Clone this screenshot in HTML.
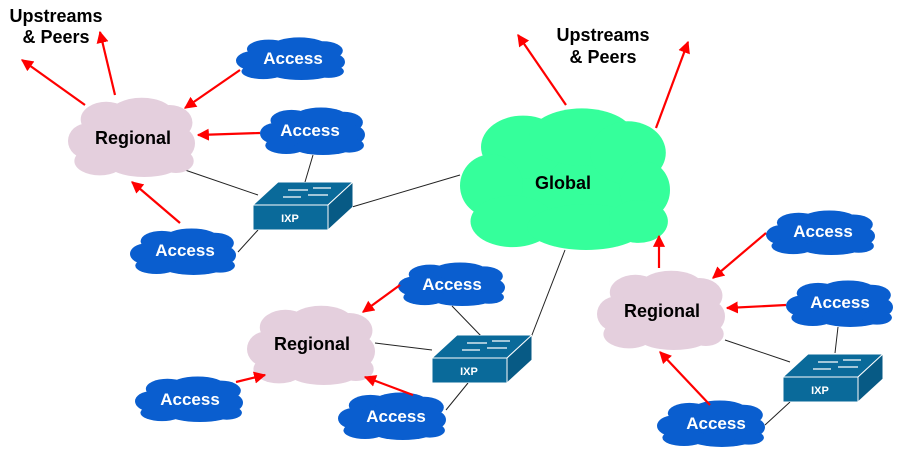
<!DOCTYPE html>
<html><head><meta charset="utf-8"><style>
html,body{margin:0;padding:0;background:#fff}
svg{display:block}
text{font-family:"Liberation Sans",Arial,sans-serif;font-weight:bold}
</style></head><body>
<svg width="900" height="456" viewBox="0 0 900 456" xmlns="http://www.w3.org/2000/svg">
<defs>
<symbol id="c" viewBox="0 0 100 100" preserveAspectRatio="none">
<ellipse cx="50" cy="55" rx="40" ry="38"/>
<ellipse cx="30" cy="28" rx="20" ry="22"/>
<ellipse cx="58" cy="21" rx="25" ry="20"/>
<ellipse cx="80" cy="32" rx="18" ry="22"/>
<ellipse cx="15" cy="55" rx="15" ry="22"/>
<ellipse cx="88" cy="58" rx="12" ry="20"/>
<ellipse cx="25" cy="80" rx="20" ry="18"/>
<ellipse cx="60" cy="84" rx="28" ry="16"/>
<ellipse cx="85" cy="80" rx="14" ry="15"/>
</symbol>
<marker id="a" viewBox="0 0 10 10" refX="9" refY="5" markerWidth="5.5" markerHeight="5.5" orient="auto"><path d="M0,0L10,5L0,10z" fill="#f00"/></marker>
<symbol id="s" viewBox="0 0 100 48">
<path d="M0,23L25,0L100,0L75,23z" fill="#0a6a9a" stroke="#fff" stroke-width="1"/>
<path d="M75,23L100,0L100,25L75,48z" fill="#075a85" stroke="#fff" stroke-width="1"/>
<rect x="0" y="23" width="75" height="25" fill="#0a6a9a" stroke="#fff" stroke-width="1"/>
<g stroke="#fff" stroke-width="1.3" fill="#fff">
<path d="M35,8L55,8M60,6L78,6M30,15L48,15M55,13L75,13"/>
</g>
<text x="37" y="40" font-size="11" fill="#fff" text-anchor="middle" font-family="Liberation Sans" font-weight="bold">IXP</text>
</symbol>
</defs>
<g stroke="#222" stroke-width="1" fill="none">
<path d="M185,170L258,195M313,155L305,182M238,252L258,230M352,207L460,175M565,250L530,340M375,343L432,350M452,306L482,337M446,410L468,383M725,340L790,362M838,327L835,353M765,425L790,402"/>
</g>
<g fill="#e4cfdd">
<use href="#c" x="68" y="97" width="127" height="80"/>
<use href="#c" x="247" y="305" width="128" height="80"/>
<use href="#c" x="597" y="270" width="128" height="80"/>
</g>
<use href="#c" x="460" y="107" width="210" height="143" fill="#35ff9b"/>
<g fill="#0a5ecf">
<use href="#c" x="236" y="37" width="109" height="43"/>
<use href="#c" x="260" y="107" width="105" height="48"/>
<use href="#c" x="130" y="228" width="106" height="47"/>
<use href="#c" x="398" y="262" width="107" height="44"/>
<use href="#c" x="135" y="376" width="108" height="46"/>
<use href="#c" x="338" y="392" width="108" height="48"/>
<use href="#c" x="766" y="210" width="109" height="45"/>
<use href="#c" x="786" y="280" width="107" height="47"/>
<use href="#c" x="657" y="400" width="108" height="47"/>
</g>
<g stroke="#f00" stroke-width="2.2" marker-end="url(#a)">
<line x1="85" y1="105" x2="22" y2="60"/>
<line x1="115" y1="95" x2="100" y2="32"/>
<line x1="240" y1="70" x2="185" y2="108"/>
<line x1="260" y1="133" x2="198" y2="135"/>
<line x1="180" y1="223" x2="132" y2="182"/>
<line x1="566" y1="105" x2="518" y2="35"/>
<line x1="656" y1="128" x2="688" y2="42"/>
<line x1="400" y1="285" x2="363" y2="312"/>
<line x1="236" y1="382" x2="265" y2="375"/>
<line x1="413" y1="395" x2="365" y2="377"/>
<line x1="766" y1="233" x2="713" y2="278"/>
<line x1="786" y1="305" x2="727" y2="308"/>
<line x1="710" y1="405" x2="660" y2="352"/>
<line x1="659" y1="268" x2="659" y2="236"/>
</g>
<use href="#s" x="253" y="182" width="100" height="48"/>
<use href="#s" x="432" y="335" width="100" height="48"/>
<use href="#s" x="783" y="354" width="100" height="48"/>
<g font-size="18" text-anchor="middle" fill="#000">
<text x="133" y="144">Regional</text>
<text x="312" y="350">Regional</text>
<text x="662" y="317">Regional</text>
<text x="563" y="189">Global</text>
<text x="56" y="22">Upstreams</text>
<text x="56" y="43">&amp; Peers</text>
<text x="603" y="41">Upstreams</text>
<text x="603" y="63">&amp; Peers</text>
</g>
<g font-size="17" text-anchor="middle" fill="#fff">
<text x="293" y="64">Access</text>
<text x="310" y="136">Access</text>
<text x="185" y="256">Access</text>
<text x="452" y="290">Access</text>
<text x="190" y="405">Access</text>
<text x="396" y="422">Access</text>
<text x="823" y="237">Access</text>
<text x="840" y="308">Access</text>
<text x="716" y="429">Access</text>
</g>
</svg>
</body></html>
